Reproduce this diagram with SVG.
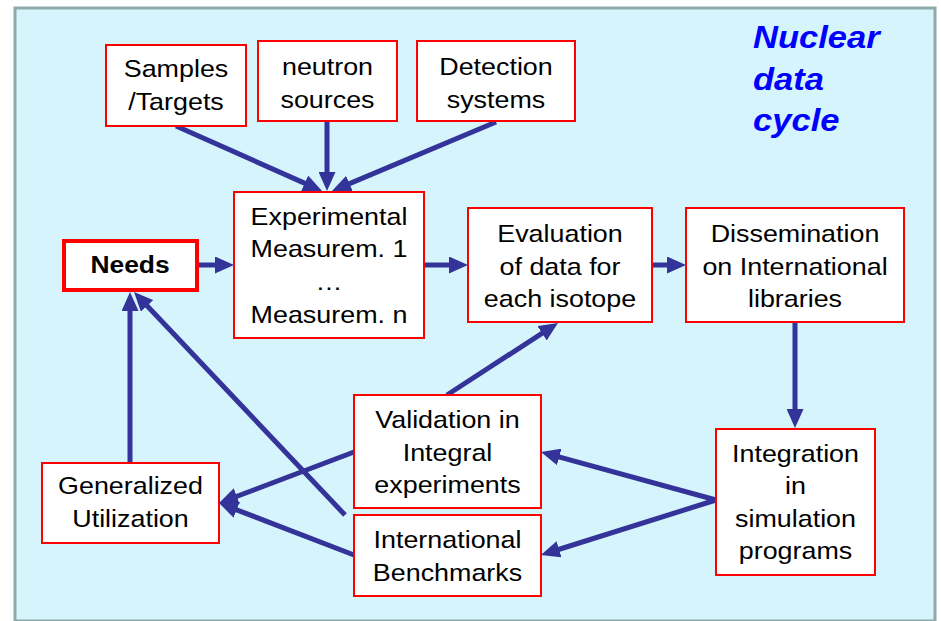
<svg xmlns="http://www.w3.org/2000/svg" width="941" height="621" viewBox="0 0 941 621">
<defs>
<style>
.box{fill:#FFFFFF;stroke:#FF0000;stroke-width:2}
.needs{fill:#FFFFFF;stroke:#FF0000;stroke-width:4}
.t{font-family:"Liberation Sans",Arial,sans-serif;font-size:24px;fill:#000000;text-anchor:middle}
.b{font-weight:bold}
.title{font-family:"Liberation Sans",Arial,sans-serif;font-size:32px;font-weight:bold;font-style:italic;fill:#0000FF}
.c{fill:none;stroke:#333399;stroke-width:5;marker-end:url(#ah)}
</style>
<marker id="ah" markerUnits="userSpaceOnUse" markerWidth="19" markerHeight="17" refX="9" refY="8.5" orient="auto" viewBox="0 0 19 17">
<path d="M0,0 L19,8.5 L0,17 z" fill="#333399"/>
</marker>
</defs>
<rect x="0" y="0" width="941" height="621" fill="#FFFFFF"/>
<rect x="15" y="8" width="920" height="613" fill="#D6F4FC" stroke="#8FAAAA" stroke-width="3"/>

<g id="title">
<text class="title" transform="matrix(1.08 0 0 1 753 0)"><tspan x="0" y="48">Nuclear</tspan><tspan x="0" y="90">data</tspan><tspan x="0" y="131">cycle</tspan></text>
</g>

<g id="connectors">
<path class="c" d="M176,126 L312.9,186.9"/>
<path class="c" d="M327,121 L327,181"/>
<path class="c" d="M496,122 L341.2,187.1"/>
<path class="c" d="M198,265 L224,265"/>
<path class="c" d="M424,265 L458,265"/>
<path class="c" d="M652,265 L676,265"/>
<path class="c" d="M795,322 L795,418"/>
<path class="c" d="M716,500 L550.6,454.6"/>
<path class="c" d="M716,500 L550.5,552"/>
<path class="c" d="M447,395 L549.6,328.4"/>
<path class="c" d="M354,452 L228.4,499.5"/>
<path class="c" d="M354,555 L228.3,506.6"/>
<path class="c" d="M130,463 L130,302"/>
<path class="c" d="M345,515 L140.9,299.3"/>
</g>

<g id="samples">
<rect class="box" x="106" y="45" width="140" height="81"/>
<text class="t" transform="matrix(1.12 0 0 1 176 0)"><tspan x="0" y="77">Samples</tspan><tspan x="0" y="110">/Targets</tspan></text>
</g>
<g id="neutron">
<rect class="box" x="258" y="41" width="139" height="80"/>
<text class="t" transform="matrix(1.12 0 0 1 327.5 0)"><tspan x="0" y="75">neutron</tspan><tspan x="0" y="108">sources</tspan></text>
</g>
<g id="detection">
<rect class="box" x="417" y="41" width="158" height="80"/>
<text class="t" transform="matrix(1.12 0 0 1 496 0)"><tspan x="0" y="75">Detection</tspan><tspan x="0" y="108">systems</tspan></text>
</g>
<g id="needs">
<rect class="needs" x="64" y="241" width="133" height="49"/>
<text class="t b" transform="matrix(1.1 0 0 1 130 0)"><tspan x="0" y="273">Needs</tspan></text>
</g>
<g id="experimental">
<rect class="box" x="234" y="192" width="190" height="146"/>
<text class="t" transform="matrix(1.12 0 0 1 329 0)"><tspan x="0" y="225">Experimental</tspan><tspan x="0" y="257">Measurem. 1</tspan><tspan x="0" y="290">…</tspan><tspan x="0" y="323">Measurem. n</tspan></text>
</g>
<g id="evaluation">
<rect class="box" x="468" y="208" width="184" height="114"/>
<text class="t" transform="matrix(1.12 0 0 1 560 0)"><tspan x="0" y="242">Evaluation</tspan><tspan x="0" y="275">of data for</tspan><tspan x="0" y="307">each isotope</tspan></text>
</g>
<g id="dissemination">
<rect class="box" x="686" y="208" width="218" height="114"/>
<text class="t" transform="matrix(1.12 0 0 1 795 0)"><tspan x="0" y="242">Dissemination</tspan><tspan x="0" y="275">on International</tspan><tspan x="0" y="307">libraries</tspan></text>
</g>
<g id="validation">
<rect class="box" x="354" y="395" width="187" height="113"/>
<text class="t" transform="matrix(1.12 0 0 1 447.5 0)"><tspan x="0" y="428">Validation in</tspan><tspan x="0" y="461">Integral</tspan><tspan x="0" y="493">experiments</tspan></text>
</g>
<g id="benchmarks">
<rect class="box" x="354" y="515" width="187" height="81"/>
<text class="t" transform="matrix(1.12 0 0 1 447.5 0)"><tspan x="0" y="548">International</tspan><tspan x="0" y="581">Benchmarks</tspan></text>
</g>
<g id="generalized">
<rect class="box" x="42" y="463" width="177" height="80"/>
<text class="t" transform="matrix(1.12 0 0 1 130.5 0)"><tspan x="0" y="494">Generalized</tspan><tspan x="0" y="527">Utilization</tspan></text>
</g>
<g id="integration">
<rect class="box" x="716" y="429" width="159" height="146"/>
<text class="t" transform="matrix(1.12 0 0 1 795.5 0)"><tspan x="0" y="462">Integration</tspan><tspan x="0" y="494">in</tspan><tspan x="0" y="527">simulation</tspan><tspan x="0" y="559">programs</tspan></text>
</g>
</svg>
